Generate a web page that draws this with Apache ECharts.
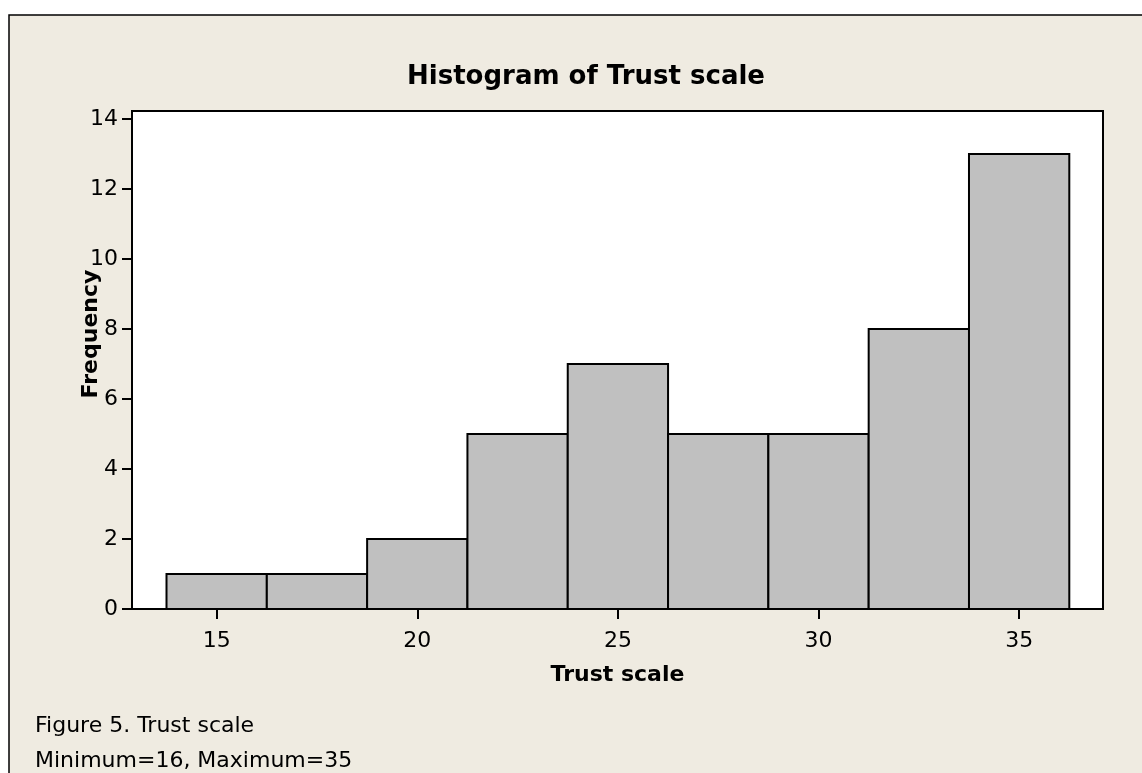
<!DOCTYPE html>
<html>
<head>
<meta charset="utf-8">
<script src="https://cdn.jsdelivr.net/npm/echarts@6/dist/echarts.min.js"></script>
<style>
  html, body { margin: 0; padding: 0; background: #fff; }
  #chart { width: 1142px; height: 773px; }
</style>
</head>
<body>
<div id="chart"></div>
<script>
  // histogram bins (centres), bin width and counts
  var binCenters = [15, 17.5, 20, 22.5, 25, 27.5, 30, 32.5, 35];
  var binWidth = 2.5;
  var counts = [1, 1, 2, 5, 7, 5, 5, 8, 13];
  var xTicks = [15, 20, 25, 30, 35];
  var yTicks = [0, 2, 4, 6, 8, 10, 12, 14];

  var FONT = '"DejaVu Sans", sans-serif';

  var chart = echarts.init(document.getElementById('chart'));

  var data = [];
  for (var i = 0; i < binCenters.length; i++) {
    data.push([binCenters[i], counts[i]]);
  }

  chart.setOption({
    backgroundColor: '#ffffff',
    animation: false,
    textStyle: { fontFamily: FONT, color: '#000' },
    graphic: [
      {
        type: 'rect',
        z: -10,
        shape: { x: 9, y: 15, width: 1200, height: 800 },
        style: { fill: '#efebe1', stroke: '#000', lineWidth: 1.5 }
      },
      {
        type: 'text',
        left: 35,
        top: 709,
        style: {
          text: 'Figure 5. Trust scale\nMinimum=16, Maximum=35',
          font: '22px ' + FONT,
          fill: '#000',
          lineHeight: 35
        }
      }
    ],
    title: {
      text: 'Histogram of Trust scale',
      left: 581,
      top: 59,
      textAlign: 'center',
      textStyle: { fontFamily: FONT, fontSize: 26, fontWeight: 'bold', color: '#000' }
    },
    grid: {
      left: 132,
      top: 111,
      right: 39,
      bottom: 164,
      show: true,
      backgroundColor: '#ffffff',
      borderColor: '#000',
      borderWidth: 2
    },
    xAxis: {
      type: 'value',
      min: 12.89,
      max: 37.09,
      name: 'Trust scale',
      nameLocation: 'middle',
      nameGap: 55,
      nameMoveOverlap: false,
      nameTextStyle: { fontFamily: FONT, fontSize: 22, fontWeight: 'bold', color: '#000' },
      axisLine: { show: true, onZero: false, lineStyle: { color: '#000', width: 2 } },
      axisTick: { show: true, length: 10, customValues: xTicks, lineStyle: { color: '#000', width: 2 } },
      axisLabel: { customValues: xTicks, margin: 21, fontFamily: FONT, fontSize: 22, color: '#000' },
      splitLine: { show: false }
    },
    yAxis: {
      type: 'value',
      min: 0,
      max: 14.23,
      name: 'Frequency',
      nameLocation: 'middle',
      nameGap: 30,
      nameRotate: 90,
      nameMoveOverlap: false,
      nameTextStyle: { fontFamily: FONT, fontSize: 22, fontWeight: 'bold', color: '#000', padding: [0, 0, 0, 52] },
      axisLine: { show: true, lineStyle: { color: '#000', width: 2 } },
      axisTick: { show: true, length: 10, customValues: yTicks, lineStyle: { color: '#000', width: 2 } },
      axisLabel: { customValues: yTicks, margin: 14, fontFamily: FONT, fontSize: 22, color: '#000' },
      splitLine: { show: false }
    },
    series: [{
      type: 'custom',
      data: data,
      encode: { x: 0, y: 1 },
      renderItem: function (params, api) {
        var c = api.value(0);
        var h = api.value(1);
        var p0 = api.coord([c - binWidth / 2, h]);
        var p1 = api.coord([c + binWidth / 2, 0]);
        return {
          type: 'rect',
          shape: { x: p0[0], y: p0[1], width: p1[0] - p0[0], height: p1[1] - p0[1] },
          style: { fill: '#c0c0c0', stroke: '#000', lineWidth: 2 }
        };
      }
    }]
  });
</script>
</body>
</html>
